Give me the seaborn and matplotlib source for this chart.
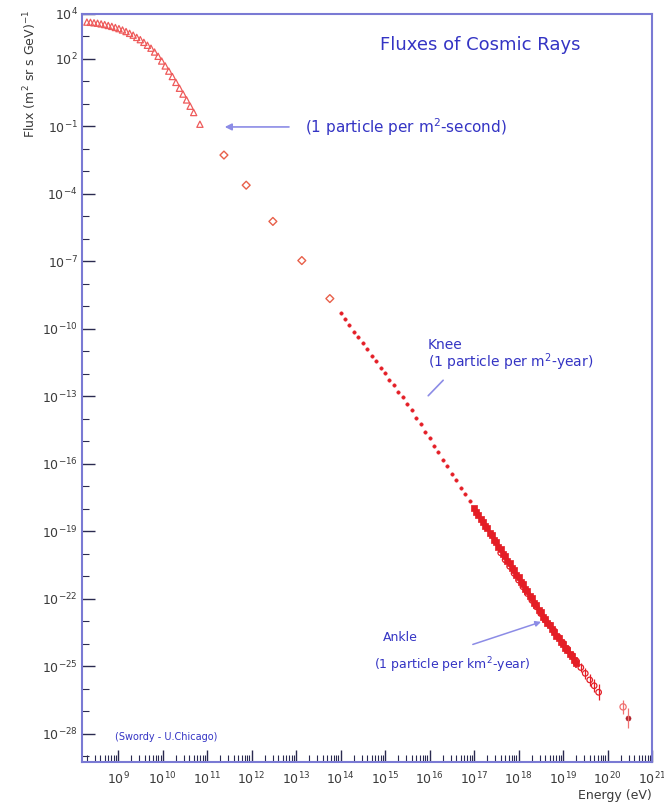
import numpy as np
import matplotlib
matplotlib.use("Agg")
import matplotlib.pyplot as plt
import seaborn as sns
from matplotlib.ticker import FixedLocator, NullFormatter

# ---- measured spectrum (log10 of energy in eV, log10 of flux in (m^2 sr s GeV)^-1) ----
lowe_logE = [8.30, 8.38, 8.46, 8.54, 8.62, 8.70, 8.78, 8.86, 8.94, 9.02, 9.10,
             9.18, 9.26, 9.34, 9.42, 9.50, 9.58, 9.66, 9.74, 9.82, 9.90, 9.98,
             10.06, 10.14, 10.22, 10.30, 10.38, 10.46, 10.54, 10.62, 10.70, 10.84]
lowe_logF = [3.64, 3.63, 3.61, 3.59, 3.56, 3.53, 3.49, 3.45, 3.40, 3.35, 3.29,
             3.22, 3.14, 3.06, 2.96, 2.86, 2.74, 2.61, 2.48, 2.31, 2.12, 1.91,
             1.69, 1.46, 1.22, 0.96, 0.70, 0.44, 0.18, -0.10, -0.38, -0.90]

direct_logE = [11.38, 11.88, 12.48, 13.13, 13.76]
direct_logF = [-2.27, -3.61, -5.22, -6.96, -8.65]

shower_logE = [14.0, 14.1, 14.2, 14.3, 14.4, 14.5, 14.6, 14.7, 14.8, 14.9, 15.0,
               15.1, 15.2, 15.3, 15.4, 15.5, 15.6, 15.7, 15.8, 15.9, 16.0, 16.1,
               16.2, 16.3, 16.4, 16.5, 16.6, 16.7, 16.8, 16.9]
shower_logF = [-9.27, -9.58, -9.82, -10.12, -10.35, -10.64, -10.88, -11.19, -11.42,
               -11.72, -11.95, -12.26, -12.49, -12.80, -13.02, -13.33, -13.60, -13.95,
               -14.22, -14.57, -14.84, -15.19, -15.46, -15.81, -16.08, -16.43, -16.70,
               -17.05, -17.32, -17.67]

band_logE = [17.00, 17.05, 17.10, 17.15, 17.20, 17.25, 17.30, 17.35, 17.40, 17.45,
             17.50, 17.55, 17.60, 17.65, 17.70, 17.75, 17.80, 17.85, 17.90, 17.95,
             18.00, 18.05, 18.10, 18.15, 18.20, 18.25, 18.30, 18.35, 18.40, 18.45,
             18.50, 18.55, 18.60, 18.65, 18.70, 18.75, 18.80, 18.85, 18.90, 18.95,
             19.00, 19.05, 19.10, 19.15, 19.20, 19.25, 19.30]
band_logF = [-17.94, -18.14, -18.25, -18.45, -18.56, -18.76, -18.87, -19.07, -19.18,
             -19.38, -19.49, -19.69, -19.80, -20.00, -20.11, -20.31, -20.42, -20.62,
             -20.73, -20.93, -21.04, -21.24, -21.35, -21.55, -21.66, -21.86, -21.97,
             -22.17, -22.28, -22.48, -22.59, -22.79, -22.90, -23.08, -23.18, -23.35,
             -23.45, -23.63, -23.73, -23.90, -24.00, -24.18, -24.28, -24.45, -24.55,
             -24.73, -24.83]
band_logErr = [0.03, 0.03, 0.03, 0.03, 0.03, 0.03, 0.03, 0.03, 0.03, 0.03,
               0.04, 0.04, 0.04, 0.04, 0.04, 0.04, 0.04, 0.05, 0.05, 0.05,
               0.05, 0.05, 0.06, 0.06, 0.06, 0.06, 0.07, 0.07, 0.07, 0.08,
               0.08, 0.08, 0.09, 0.09, 0.10, 0.10, 0.11, 0.11, 0.12, 0.13,
               0.14, 0.15, 0.16, 0.17, 0.18, 0.20, 0.22]

agasa_logE = [17.6, 17.7, 17.8, 17.9, 18.0, 18.1, 18.2, 18.3, 18.4, 18.5, 18.6,
              18.7, 18.8, 18.9, 19.0, 19.1, 19.2, 19.3, 19.4, 19.5, 19.6, 19.7, 19.8]
agasa_logF = [-19.95, -20.26, -20.55, -20.86, -21.16, -21.46, -21.76, -22.06,
              -22.35, -22.65, -22.94, -23.16, -23.42, -23.70, -23.96, -24.22,
              -24.50, -24.76, -25.05, -25.31, -25.60, -25.86, -26.15]
agasa_logErr = [0.04, 0.04, 0.04, 0.05, 0.05, 0.05, 0.06, 0.06, 0.07, 0.07, 0.08,
                0.09, 0.10, 0.11, 0.12, 0.14, 0.16, 0.18, 0.20, 0.23, 0.26, 0.30, 0.35]

uhe_logE = [20.35, 20.46]
uhe_logF = [-26.80, -27.29]
uhe_logErr = [0.30, 0.45]

y_label_exps = [4, 2, -1, -4, -7, -10, -13, -16, -19, -22, -25, -28]
x_label_exps = list(range(9, 22))

RED = "#e41e26"
PINK = "#ee5a5a"
TXT = "#3434c4"
ARROW = "#8c8ce6"
SPINE = "#7a7ad4"

sns.set_theme(style="white")
plt.rcParams["font.family"] = ["DejaVu Sans"]
plt.rcParams["mathtext.fontset"] = "dejavusans"

fig = plt.figure(figsize=(6.64, 8.06), dpi=100)
fig.patch.set_facecolor("white")
ax = fig.add_axes([82 / 664, 1 - 762 / 806, 570 / 664, 748 / 806])
ax.set_xscale("log")
ax.set_yscale("log")


def lin(v):
    return 10.0 ** np.asarray(v, dtype=float)


def asym(logF, logErr):
    f = lin(logF)
    e = np.asarray(logErr, dtype=float)
    return f, np.vstack([f - f * 10 ** (-e), f * 10 ** e - f])


# low-energy direct measurements
sns.scatterplot(x=lin(lowe_logE), y=lin(lowe_logF), ax=ax, marker="^", s=20,
                color=RED, facecolor="none", edgecolor=PINK, linewidth=0.9,
                legend=False, zorder=3)
# balloon / satellite points
sns.scatterplot(x=lin(direct_logE), y=lin(direct_logF), ax=ax, marker="D", s=16,
                color=RED, facecolor="none", edgecolor="#e8604a", linewidth=1.0,
                legend=False, zorder=3)
# air-shower arrays
sns.scatterplot(x=lin(shower_logE), y=lin(shower_logF), ax=ax, marker="o", s=6,
                color=RED, edgecolor=RED, linewidth=0.4, legend=False, zorder=3)

f, err = asym(band_logF, band_logErr)
ax.errorbar(lin(band_logE), f, yerr=err, fmt="none", ecolor=RED, elinewidth=1.2,
            capsize=0, zorder=2)
sns.scatterplot(x=lin(band_logE), y=f, ax=ax, marker="s", s=18, color=RED,
                edgecolor=RED, linewidth=0.5, legend=False, zorder=3)

f, err = asym(agasa_logF, agasa_logErr)
ax.errorbar(lin(agasa_logE), f, yerr=err, fmt="none", ecolor=RED, elinewidth=0.9,
            capsize=0, zorder=2)
sns.scatterplot(x=lin(agasa_logE), y=f, ax=ax, marker="o", s=16, color=RED,
                facecolor="none", edgecolor=RED, linewidth=0.9, legend=False, zorder=3)

f, err = asym(uhe_logF, uhe_logErr)
ax.errorbar(lin(uhe_logE), f, yerr=err, fmt="none", ecolor="#f07070", elinewidth=0.9,
            capsize=0, zorder=2)
sns.scatterplot(x=lin(uhe_logE[:1]), y=f[:1], ax=ax, marker="o", s=20, color=RED,
                facecolor="none", edgecolor="#f07070", linewidth=0.9, legend=False)
sns.scatterplot(x=lin(uhe_logE[1:]), y=f[1:], ax=ax, marker="o", s=14, color="#b0202a",
                edgecolor="#b0202a", legend=False)

# axes ranges and ticks
ax.set_xlim(10 ** 8.19, 1e21)
ax.set_ylim(10 ** -29.25, 1e4)

ax.xaxis.set_major_locator(FixedLocator(lin(x_label_exps)))
ax.set_xticklabels([f"$10^{{{e}}}$" for e in x_label_exps])
x_minor = [m * 10.0 ** d for d in range(8, 21) for m in range(2, 10)]
ax.xaxis.set_minor_locator(FixedLocator(x_minor))
ax.xaxis.set_minor_formatter(NullFormatter())

ax.yaxis.set_major_locator(FixedLocator(lin(y_label_exps)))
ax.set_yticklabels([f"$10^{{{e}}}$" for e in y_label_exps])
ax.yaxis.set_minor_locator(FixedLocator(lin(range(-29, 4))))
ax.yaxis.set_minor_formatter(NullFormatter())

ax.tick_params(axis="both", which="major", direction="in", length=9, width=1.0,
               color="#2a2a50", labelsize=9, labelcolor="#3a3a3a", pad=3,
               top=False, right=False, bottom=True, left=True)
ax.tick_params(axis="both", which="minor", direction="in", length=5, width=0.8,
               color="#2a2a50", top=False, right=False, bottom=True, left=True)
ax.tick_params(axis="x", which="major", pad=6)

for side in ["left", "right", "top", "bottom"]:
    ax.spines[side].set_visible(True)
    ax.spines[side].set_color(SPINE)
    ax.spines[side].set_linewidth(1.5)
ax.grid(False)
ax.set_facecolor("white")

# axis titles
fig.text(652 / 664, 1 - 796 / 806, "Energy (eV)", ha="right", va="center",
         fontsize=9, color="#3a3a3a")
fig.text(30 / 664, 1 - 10 / 806, "Flux (m$^2$ sr s GeV)$^{-1}$", rotation=90,
         ha="center", va="top", fontsize=9, color="#3a3a3a")

# annotations
ax.text(0.698, 0.959, "Fluxes of Cosmic Rays", transform=ax.transAxes,
        ha="center", va="center", fontsize=13, color=TXT)
ax.text(0.391, 0.849, "(1 particle per m$^2$-second)", transform=ax.transAxes,
        ha="left", va="center", fontsize=11, color=TXT)
ax.annotate("", xy=(0.2456, 0.849), xytext=(0.368, 0.849), xycoords="axes fraction",
            arrowprops=dict(arrowstyle="-|>", color=ARROW, lw=1.2, mutation_scale=10))
ax.text(0.607, 0.5575, "Knee", transform=ax.transAxes, ha="left", va="center",
        fontsize=10, color=TXT)
ax.text(0.607, 0.535, "(1 particle per m$^2$-year)", transform=ax.transAxes,
        ha="left", va="center", fontsize=10, color=TXT)
ax.annotate("", xy=(0.604, 0.487), xytext=(0.637, 0.513), xycoords="axes fraction",
            arrowprops=dict(arrowstyle="-", color=ARROW, lw=1.2))
ax.text(0.528, 0.166, "Ankle", transform=ax.transAxes, ha="left", va="center",
        fontsize=9, color=TXT)
ax.text(0.513, 0.130, "(1 particle per km$^2$-year)", transform=ax.transAxes,
        ha="left", va="center", fontsize=9, color=TXT)
ax.annotate("", xy=(0.810, 0.1885), xytext=(0.681, 0.156), xycoords="axes fraction",
            arrowprops=dict(arrowstyle="-|>", color=ARROW, lw=1.1, mutation_scale=8))
ax.text(0.058, 0.033, "(Swordy - U.Chicago)", transform=ax.transAxes, ha="left",
        va="center", fontsize=7, color=TXT)

fig.savefig("out.png", dpi=100, facecolor="white")
